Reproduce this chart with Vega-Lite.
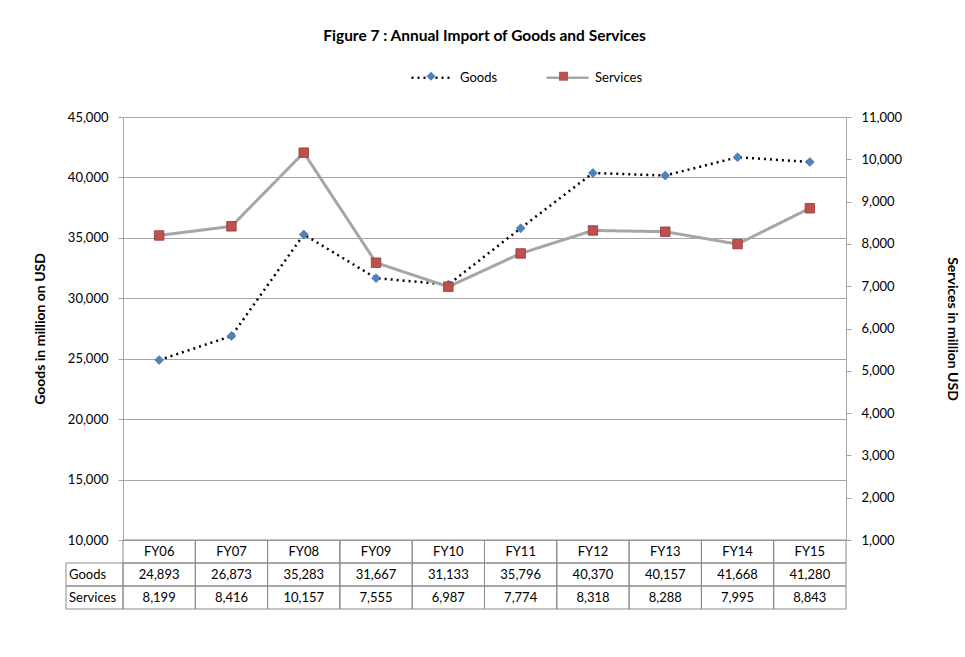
{
  "$schema": "https://vega.github.io/schema/vega-lite/v6.json",
  "autosize": {"type": "none"},
  "padding": {"left": 66, "top": 117, "right": 899, "bottom": 540},
  "background": "white",
  "config": {
    "font": "Lato",
    "view": {"stroke": null},
    "axis": {
      "labelFont": "Lato", "labelFontSize": 13, "labelColor": "#000000",
      "titleFont": "Lato", "titleFontSize": 14, "titleFontWeight": "bold", "titleColor": "#000000",
      "domainColor": "#a6a6a6", "tickColor": "#a6a6a6", "gridColor": "#a6a6a6",
      "tickSize": 5, "labelPadding": 10
    },
    "legend": {"labelFont": "Lato", "labelFontSize": 13, "labelColor": "#000000"}
  },
  "datasets": {
    "imports": [
      {"year": "FY06", "series": "Goods", "value": 24893},
      {"year": "FY07", "series": "Goods", "value": 26873},
      {"year": "FY08", "series": "Goods", "value": 35283},
      {"year": "FY09", "series": "Goods", "value": 31667},
      {"year": "FY10", "series": "Goods", "value": 31133},
      {"year": "FY11", "series": "Goods", "value": 35796},
      {"year": "FY12", "series": "Goods", "value": 40370},
      {"year": "FY13", "series": "Goods", "value": 40157},
      {"year": "FY14", "series": "Goods", "value": 41668},
      {"year": "FY15", "series": "Goods", "value": 41280},
      {"year": "FY06", "series": "Services", "value": 8199},
      {"year": "FY07", "series": "Services", "value": 8416},
      {"year": "FY08", "series": "Services", "value": 10157},
      {"year": "FY09", "series": "Services", "value": 7555},
      {"year": "FY10", "series": "Services", "value": 6987},
      {"year": "FY11", "series": "Services", "value": 7774},
      {"year": "FY12", "series": "Services", "value": 8318},
      {"year": "FY13", "series": "Services", "value": 8288},
      {"year": "FY14", "series": "Services", "value": 7995},
      {"year": "FY15", "series": "Services", "value": 8843}
    ]
  },
  "data": {"name": "imports"},
  "columns": 2,
  "spacing": 0,
  "bounds": "flush",
  "concat": [
    {
      "width": 57, "height": 423,
      "data": {"values": []},
      "mark": {"type": "text"},
      "encoding": {}
    },
    {
      "width": 723, "height": 423,
      "title": {"text": "Figure 7 : Annual Import of Goods and Services", "font": "Lato", "fontSize": 15.5, "fontWeight": "bold", "color": "#000000", "anchor": "middle", "offset": 67},
      "encoding": {
        "x": {"field": "year", "type": "ordinal", "scale": {"type": "point", "padding": 0.5}, "axis": null}
      },
      "layer": [
        {
          "transform": [{"filter": "datum.series === 'Goods'"}],
          "encoding": {
            "y": {"field": "value", "type": "quantitative",
                  "scale": {"domain": [10000, 45000], "nice": false, "zero": false},
                  "axis": {"orient": "left", "values": [10000, 15000, 20000, 25000, 30000, 35000, 40000, 45000], "format": ",.0f", "grid": true, "title": "Goods in million on USD", "titlePadding": 20}}
          },
          "layer": [
            {
              "mark": {"type": "line", "strokeWidth": 2.5},
              "encoding": {
                "stroke": {"field": "series", "type": "nominal", "scale": {"domain": ["Goods", "Services"], "range": ["#000000", "#a6a6a6"]},
                           "legend": {"orient": "none", "legendX": 344, "legendY": -62, "direction": "horizontal", "title": null, "symbolType": "stroke", "symbolSize": 1764, "symbolStrokeWidth": 2.5, "labelOffset": 5, "columnPadding": 43}},
                "strokeDash": {"field": "series", "type": "nominal", "scale": {"domain": ["Goods", "Services"], "range": [[2, 4], [1, 0]]},
                           "legend": {"orient": "none", "legendX": 344, "legendY": -62, "direction": "horizontal", "title": null, "symbolType": "stroke", "symbolSize": 1764, "symbolStrokeWidth": 2.5, "labelOffset": 5, "columnPadding": 43}}
              }
            },
            {
              "mark": {"type": "point", "filled": true, "opacity": 1, "size": 80, "stroke": "#3d6fa8", "strokeWidth": 0.6},
              "encoding": {
                "shape": {"field": "series", "type": "nominal", "scale": {"range": ["diamond", "square"]},
                          "legend": {"orient": "none", "legendX": 358.5, "legendY": -47.5, "direction": "horizontal", "title": null, "symbolSize": 80, "symbolStrokeWidth": 0, "labelOpacity": 0, "labelOffset": 5, "columnPadding": 76.5}},
                "fill": {"field": "series", "type": "nominal", "scale": {"range": ["#4f81bd", "#c0504d"]},
                          "legend": {"orient": "none", "legendX": 358.5, "legendY": -47.5, "direction": "horizontal", "title": null, "symbolSize": 80, "symbolStrokeWidth": 0, "labelOpacity": 0, "labelOffset": 5, "columnPadding": 76.5}}
              }
            }
          ]
        },
        {
          "transform": [{"filter": "datum.series === 'Services'"}],
          "encoding": {
            "y": {"field": "value", "type": "quantitative",
                  "scale": {"domain": [1000, 11000], "nice": false, "zero": false},
                  "axis": {"orient": "right", "values": [1000, 2000, 3000, 4000, 5000, 6000, 7000, 8000, 9000, 10000, 11000], "format": ",.0f", "grid": false, "title": "Services in million USD", "titlePadding": 43}}
          },
          "layer": [
            {
              "mark": {"type": "line", "strokeWidth": 3},
              "encoding": {
                "stroke": {"field": "series", "type": "nominal"},
                "strokeDash": {"field": "series", "type": "nominal"}
              }
            },
            {
              "mark": {"type": "point", "filled": true, "opacity": 1, "size": 90, "stroke": "#8c3a37", "strokeWidth": 0.8},
              "encoding": {
                "shape": {"field": "series", "type": "nominal"},
                "fill": {"field": "series", "type": "nominal"}
              }
            }
          ]
        }
      ],
      "resolve": {"scale": {"y": "independent"}}
    },
    {
      "width": 57, "height": 69,
      "transform": [{"filter": "datum.year === 'FY06'"}],
      "encoding": {
        "y": {"field": "series", "type": "nominal", "scale": {"domain": ["FY", "Goods", "Services"], "paddingInner": 0, "paddingOuter": 0}, "axis": null}
      },
      "layer": [
        {"mark": {"type": "rect", "fillOpacity": 0, "stroke": "#8a8a8a", "strokeWidth": 1}},
        {"mark": {"type": "text", "align": "left", "baseline": "middle", "fontSize": 13, "font": "Lato", "color": "#000000", "dx": 3},
         "encoding": {
           "x": {"datum": 0, "type": "quantitative", "scale": {"domain": [0, 1]}, "axis": null},
           "text": {"field": "series", "type": "nominal"}
         }}
      ]
    },
    {
      "width": 723, "height": 69,
      "encoding": {
        "x": {"field": "year", "type": "ordinal", "scale": {"paddingInner": 0, "paddingOuter": 0}, "axis": null}
      },
      "layer": [
        {
          "transform": [{"filter": "datum.series === 'Goods'"}],
          "encoding": {"y": {"datum": "FY", "type": "nominal", "scale": {"domain": ["FY", "Goods", "Services"], "paddingInner": 0, "paddingOuter": 0}, "axis": null}},
          "layer": [
            {"mark": {"type": "rect", "fillOpacity": 0, "stroke": "#8a8a8a", "strokeWidth": 1}},
            {"mark": {"type": "text", "align": "center", "baseline": "middle", "fontSize": 13, "font": "Lato", "color": "#000000"},
             "encoding": {"text": {"field": "year", "type": "nominal"}}}
          ]
        },
        {
          "encoding": {"y": {"field": "series", "type": "nominal", "axis": null}},
          "layer": [
            {"mark": {"type": "rect", "fillOpacity": 0, "stroke": "#8a8a8a", "strokeWidth": 1}},
            {"mark": {"type": "text", "align": "center", "baseline": "middle", "fontSize": 13, "font": "Lato", "color": "#000000"},
             "encoding": {"text": {"field": "value", "type": "quantitative", "format": ","}}}
          ]
        }
      ]
    }
  ]
}
